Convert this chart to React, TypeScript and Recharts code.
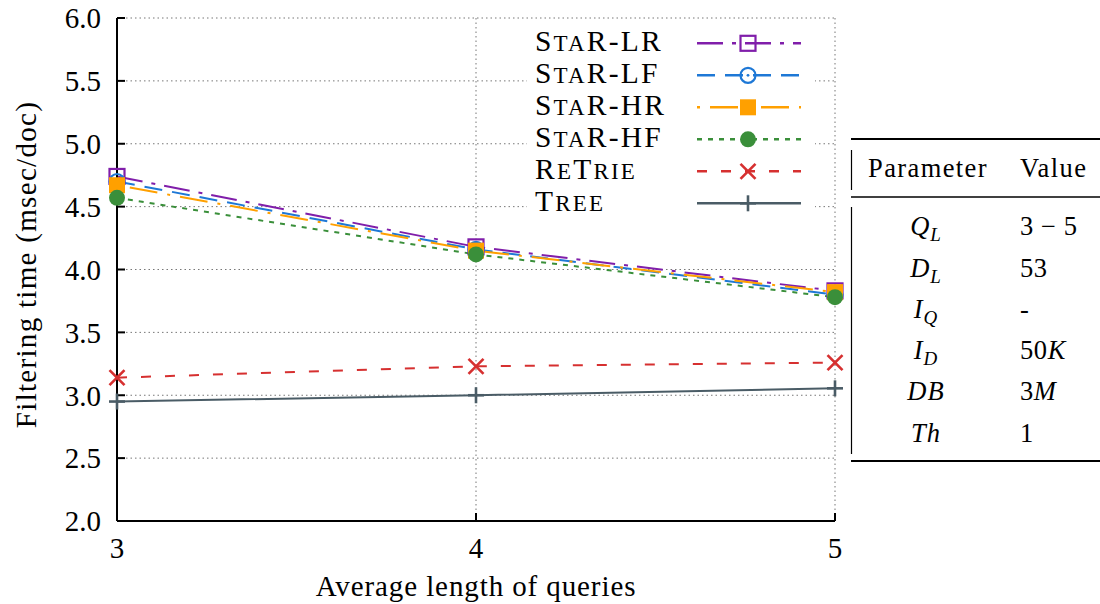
import React from 'react';
import { LineChart, Line, XAxis, YAxis, CartesianGrid, Legend } from 'recharts';

// ---- data ----
const queryLengths = [3, 4, 5];
const starLR = [4.74, 4.18, 3.83];
const starLF = [4.7, 4.16, 3.8];
const starHR = [4.67, 4.15, 3.82];
const starHF = [4.57, 4.12, 3.78];
const retrie = [3.14, 3.23, 3.26];
const tree = [2.95, 3.0, 3.055];

const xTicks = [3, 4, 5];
const yTicks = [2.0, 2.5, 3.0, 3.5, 4.0, 4.5, 5.0, 5.5, 6.0];

const seriesNames = ['StaR-LR', 'StaR-LF', 'StaR-HR', 'StaR-HF', 'ReTrie', 'Tree'];
const xTitle = 'Average length of queries';
const yTitle = 'Filtering time (msec/doc)';

const tableHeader = ['Parameter', 'Value'];
const tableParams = ['Q_L', 'D_L', 'I_Q', 'I_D', 'DB', 'Th'];
const tableValues = ['3 − 5', '53', '-', '50K', '3M', '1'];

const data = queryLengths.map((x, i) => ({
  x,
  lr: starLR[i],
  lf: starLF[i],
  hr: starHR[i],
  hf: starHF[i],
  rt: retrie[i],
  tr: tree[i],
}));

const FONT = '"Liberation Serif", "Times New Roman", serif';
const FS = 29;

type MarkerKind = 'openSquare' | 'openCircle' | 'filledSquare' | 'filledCircle' | 'cross' | 'plus';

const series: { key: string; name: string; color: string; dash?: string; marker: MarkerKind }[] = [
  { key: 'lr', name: seriesNames[0], color: '#801eaa', dash: '26 9 4 9', marker: 'openSquare' },
  { key: 'lf', name: seriesNames[1], color: '#1e78d6', dash: '18 10', marker: 'openCircle' },
  { key: 'hr', name: seriesNames[2], color: '#ffa000', dash: '3 10 28 10', marker: 'filledSquare' },
  { key: 'hf', name: seriesNames[3], color: '#3a8f3a', dash: '5 6', marker: 'filledCircle' },
  { key: 'rt', name: seriesNames[4], color: '#d63030', dash: '10 14', marker: 'cross' },
  { key: 'tr', name: seriesNames[5], color: '#4a5c66', dash: undefined, marker: 'plus' },
];

function Marker({ kind, cx, cy, color }: { kind: MarkerKind; cx: number; cy: number; color: string }) {
  switch (kind) {
    case 'openSquare':
      return <rect x={cx - 7.5} y={cy - 7.5} width={15} height={15} fill="none" stroke={color} strokeWidth={2.2} />;
    case 'openCircle':
      return (
        <g>
          <circle cx={cx} cy={cy} r={7.5} fill="none" stroke={color} strokeWidth={2.2} />
          <circle cx={cx} cy={cy} r={1.4} fill={color} />
        </g>
      );
    case 'filledSquare':
      return <rect x={cx - 8} y={cy - 8} width={16} height={16} fill={color} />;
    case 'filledCircle':
      return <circle cx={cx} cy={cy} r={8} fill={color} />;
    case 'cross':
      return (
        <g stroke={color} strokeWidth={2.6}>
          <line x1={cx - 7.5} y1={cy - 7.5} x2={cx + 7.5} y2={cy + 7.5} />
          <line x1={cx - 7.5} y1={cy + 7.5} x2={cx + 7.5} y2={cy - 7.5} />
        </g>
      );
    case 'plus':
      return (
        <g stroke={color} strokeWidth={2.6}>
          <line x1={cx} y1={cy - 8} x2={cx} y2={cy + 8} />
          <line x1={cx - 8} y1={cy} x2={cx + 8} y2={cy} />
        </g>
      );
  }
  return null;
}

const makeDot = (kind: MarkerKind, color: string) => (props: any) => {
  const { cx, cy, index } = props;
  if (cx == null || cy == null) return <g key={`d-${index}`} />;
  return (
    <g key={`${kind}-${index}`}>
      <Marker kind={kind} cx={cx} cy={cy} color={color} />
    </g>
  );
};

// small caps: lowercase letters drawn as reduced capitals
function renderSmallCaps(name: string, size: number) {
  const parts = name.match(/[a-z]+|[^a-z]+/g) || [];
  return parts.map((p, i) =>
    /[a-z]/.test(p) ? (
      <tspan key={i} fontSize={size * 0.78}>
        {p.toUpperCase()}
      </tspan>
    ) : (
      <tspan key={i} fontSize={size}>
        {p}
      </tspan>
    )
  );
}

const LEG_LEFT = 527;
const LEG_TOP = 22;

const LegendContent = () => {
  const rowH = 32;
  return (
    <svg width={288} height={198} style={{ display: 'block', background: '#fff' }}>
      {series.map((s, i) => {
        const cy = 43.3 - LEG_TOP + i * rowH;
        return (
          <g key={s.key}>
            <text x={535 - LEG_LEFT} y={cy + 7.5} fontFamily={FONT} fill="#000" letterSpacing={2.2}>
              {renderSmallCaps(s.name, 29.5)}
            </text>
            <line
              x1={697 - LEG_LEFT}
              y1={cy}
              x2={801 - LEG_LEFT}
              y2={cy}
              stroke={s.color}
              strokeWidth={2.4}
              strokeDasharray={s.dash}
            />
            <Marker kind={s.marker} cx={748 - LEG_LEFT} cy={cy} color={s.color} />
          </g>
        );
      })}
    </svg>
  );
};

function renderRuns(str: string) {
  const parts = str.match(/[A-Za-z]+|[^A-Za-z]+/g) || [];
  return parts.map((p, i) => (
    <tspan key={i} fontStyle={/[A-Za-z]/.test(p) ? 'italic' : 'normal'}>
      {p}
    </tspan>
  ));
}

function renderParam(p: string) {
  const [base, sub] = p.split('_');
  return (
    <>
      <tspan fontStyle="italic">{base}</tspan>
      {sub ? (
        <tspan fontStyle="italic" fontSize={19} dy={6}>
          {sub}
        </tspan>
      ) : null}
    </>
  );
}

const ParamTable = () => {
  const ox = 840;
  const oy = 120;
  const baselines = [235, 276.5, 318, 359, 400, 441.5];
  return (
    <svg
      width={260}
      height={360}
      style={{ position: 'absolute', left: ox, top: oy }}
      fontFamily={FONT}
      fontSize={26.5}
    >
      <line x1={851 - ox} y1={139 - oy} x2={1100 - ox} y2={139 - oy} stroke="#000" strokeWidth={2} />
      <line x1={851 - ox} y1={197 - oy} x2={1100 - ox} y2={197 - oy} stroke="#000" strokeWidth={1.4} />
      <line x1={851 - ox} y1={461 - oy} x2={1100 - ox} y2={461 - oy} stroke="#000" strokeWidth={2} />
      <line x1={851.5 - ox} y1={150 - oy} x2={851.5 - ox} y2={190 - oy} stroke="#000" strokeWidth={1.2} />
      <line x1={851.5 - ox} y1={207 - oy} x2={851.5 - ox} y2={454 - oy} stroke="#000" strokeWidth={1.2} />
      <text x={868 - ox} y={177 - oy} fill="#000" letterSpacing={1.4}>
        {tableHeader[0]}
      </text>
      <text x={1020 - ox} y={177 - oy} fill="#000" letterSpacing={1.4}>
        {tableHeader[1]}
      </text>
      {tableParams.map((p, i) => (
        <g key={p}>
          <text x={926 - ox} y={baselines[i] - oy} textAnchor="middle" fill="#000" letterSpacing={1}>
            {renderParam(p)}
          </text>
          <text x={1020 - ox} y={baselines[i] - oy} fill="#000" letterSpacing={0.6}>
            {renderRuns(tableValues[i])}
          </text>
        </g>
      ))}
    </svg>
  );
};

const tickStyle = { fontSize: FS, fontFamily: FONT, fill: '#000' };

export default function App() {
  return (
    <div style={{ position: 'absolute', left: 0, top: 0, width: 1100, height: 604, background: '#fff' }}>
      <LineChart width={1100} height={604} data={data} margin={{ top: 18, right: 265, bottom: 0, left: 57 }}>
        <CartesianGrid stroke="#777" strokeDasharray="1.5 3" strokeWidth={1} />
        <XAxis
          dataKey="x"
          type="number"
          domain={[3, 5]}
          ticks={xTicks}
          height={83}
          tick={tickStyle}
          tickSize={-8}
          tickMargin={24}
          axisLine={{ stroke: '#000', strokeWidth: 2 }}
          tickLine={{ stroke: '#000', strokeWidth: 2 }}
          label={{
            value: xTitle,
            position: 'insideBottom',
            offset: 8,
            fontSize: FS,
            fontFamily: FONT,
            fill: '#000',
            letterSpacing: 0.9,
          }}
        />
        <XAxis
          xAxisId="top"
          dataKey="x"
          type="number"
          orientation="top"
          domain={[3, 5]}
          ticks={xTicks}
          height={0}
          tick={false}
          tickSize={-8}
          axisLine={{ stroke: '#000', strokeWidth: 2 }}
          tickLine={{ stroke: '#000', strokeWidth: 2 }}
        />
        <YAxis
          type="number"
          domain={[2, 6]}
          ticks={yTicks}
          width={60}
          tick={tickStyle}
          tickFormatter={(v: number) => v.toFixed(1)}
          tickSize={-8}
          tickMargin={24}
          axisLine={{ stroke: '#000', strokeWidth: 2 }}
          tickLine={{ stroke: '#000', strokeWidth: 2 }}
          label={{
            content: (p: any) => {
              const vb = p.viewBox || { x: 57, y: 18, width: 60, height: 503 };
              const cx = vb.x - 31;
              const cy = vb.y + vb.height / 2 - 5;
              return (
                <text
                  x={cx}
                  y={cy}
                  transform={`rotate(-90, ${cx}, ${cy})`}
                  textAnchor="middle"
                  dominantBaseline="central"
                  fontSize={FS}
                  fontFamily={FONT}
                  fill="#000"
                  letterSpacing={1.3}
                >
                  {yTitle}
                </text>
              );
            },
          }}
        />
        <YAxis
          yAxisId="right"
          orientation="right"
          type="number"
          domain={[2, 6]}
          ticks={yTicks}
          width={0}
          tick={false}
          tickSize={-8}
          axisLine={{ stroke: '#000', strokeWidth: 2 }}
          tickLine={{ stroke: '#000', strokeWidth: 2 }}
        />
        {series.map((s) => (
          <Line
            key={s.key}
            dataKey={s.key}
            name={s.name}
            type="linear"
            stroke={s.color}
            strokeWidth={2}
            strokeDasharray={s.dash}
            dot={makeDot(s.marker, s.color)}
            activeDot={false}
            isAnimationActive={false}
          />
        ))}
        <Legend
          layout="vertical"
          align="center"
          verticalAlign="middle"
          wrapperStyle={{ left: LEG_LEFT, top: LEG_TOP, width: 288, height: 198 }}
          content={LegendContent}
        />
      </LineChart>
      <ParamTable />
    </div>
  );
}
